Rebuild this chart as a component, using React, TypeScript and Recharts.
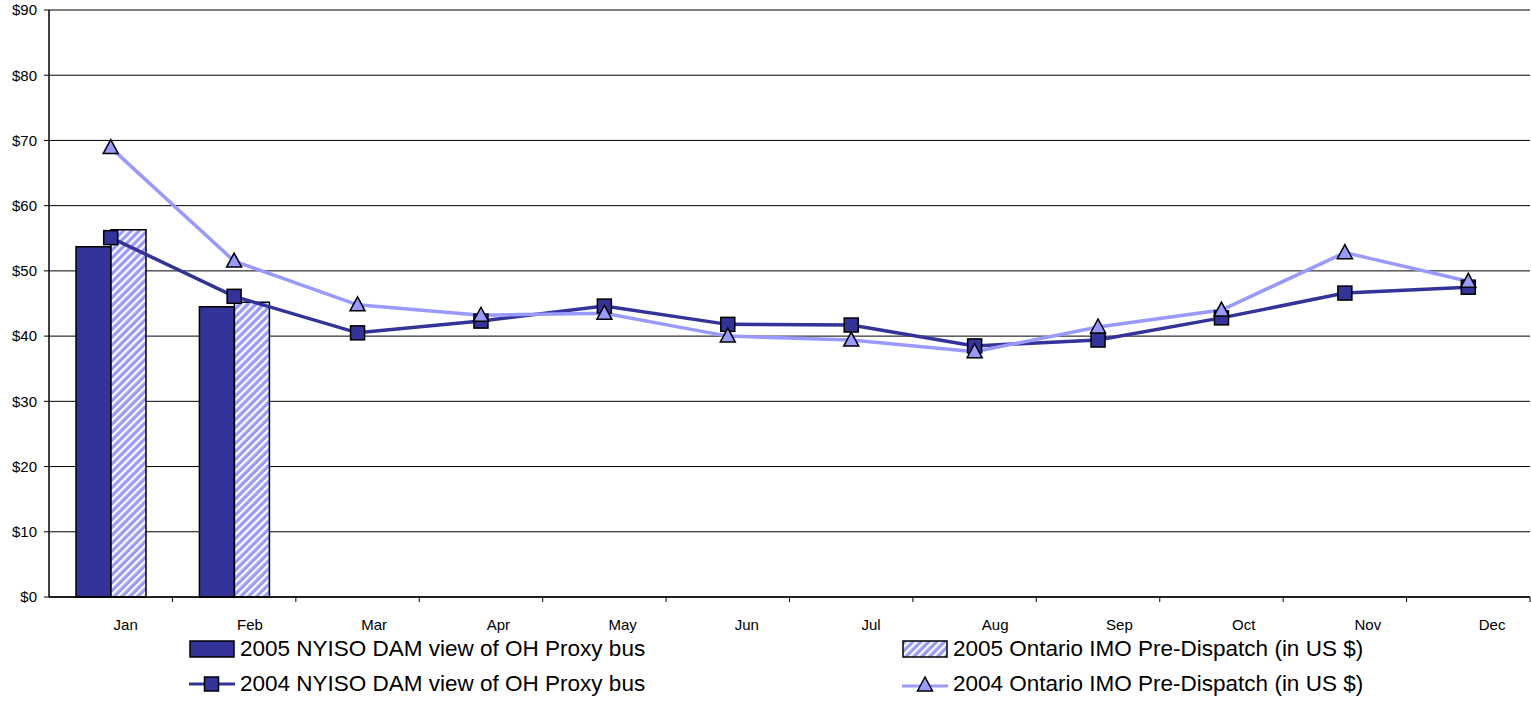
import React from 'react';
import { ComposedChart, Bar, Line, XAxis, YAxis, CartesianGrid } from 'recharts';

const months = ['Jan', 'Feb', 'Mar', 'Apr', 'May', 'Jun', 'Jul', 'Aug', 'Sep', 'Oct', 'Nov', 'Dec'];
const nyiso2005 = [53.7, 44.5];
const imo2005 = [56.3, 45.2];
const nyiso2004 = [55.1, 46.1, 40.5, 42.3, 44.6, 41.8, 41.7, 38.5, 39.4, 42.8, 46.6, 47.5];
const imo2004 = [68.9, 51.5, 44.8, 43.2, 43.5, 40.0, 39.4, 37.6, 41.4, 44.0, 52.8, 48.4];
const yTicks = [0, 10, 20, 30, 40, 50, 60, 70, 80, 90];

const DARK = '#333399';
const LIGHT = '#9999FF';
const FONT = '"Liberation Sans", Arial, sans-serif';

const W = 1531;
const H = 704;
const PLOT_LEFT = 49;
const PLOT_RIGHT = 1530;
const BAND = (PLOT_RIGHT - PLOT_LEFT) / months.length;

const data = months.map((m, i) => ({
  month: m,
  nyiso2005: nyiso2005[i] ?? null,
  imo2005: imo2005[i] ?? null,
  nyiso2004: nyiso2004[i],
  imo2004: imo2004[i],
}));

function SquareDot(props: any) {
  const { cx, cy } = props;
  if (cx == null || cy == null) return null;
  return <rect x={cx - 7} y={cy - 7} width={14} height={14} fill={DARK} stroke="#000" strokeWidth={1.5} />;
}

function TriangleDot(props: any) {
  const { cx, cy } = props;
  if (cx == null || cy == null) return null;
  return (
    <polygon
      points={`${cx},${cy - 8} ${cx - 7.5},${cy + 6} ${cx + 7.5},${cy + 6}`}
      fill={LIGHT}
      stroke="#000"
      strokeWidth={1.5}
    />
  );
}

function MonthTick(props: any) {
  const { x, y, payload, index } = props;
  const left = x - BAND / 2;
  return (
    <g>
      {index > 0 && <line x1={left} y1={y} x2={left} y2={y + 5} stroke="#000" />}
      {index === months.length - 1 && <line x1={x + BAND / 2} y1={y} x2={x + BAND / 2} y2={y + 5} stroke="#000" />}
      <text x={x + 15 + index * 0.8} y={y + 33} textAnchor="middle" fontSize={15} fontFamily={FONT} fill="#000">
        {payload.value}
      </text>
    </g>
  );
}

function HatchPattern({ id }: { id: string }) {
  return (
    <pattern id={id} patternUnits="userSpaceOnUse" width={5.6} height={5.6} patternTransform="rotate(45)">
      <rect width={5.6} height={5.6} fill={LIGHT} />
      <line x1={1.2} y1={0} x2={1.2} y2={5.6} stroke="#fff" strokeWidth={2.3} />
    </pattern>
  );
}

function LegendIcon({ kind }: { kind: string }) {
  return (
    <svg width={46} height={20} style={{ display: 'block', marginRight: 5 }}>
      <defs>
        <HatchPattern id="hatchLegend" />
      </defs>
      {kind === 'darkBar' && <rect x={1} y={2} width={44} height={16} fill={DARK} stroke="#000" strokeWidth={1.5} />}
      {kind === 'hatchBar' && <rect x={1} y={2} width={44} height={16} fill="url(#hatchLegend)" stroke="#000" strokeWidth={1.5} />}
      {kind === 'darkLine' && (
        <g>
          <line x1={0} y1={10} x2={46} y2={10} stroke={DARK} strokeWidth={3} />
          <rect x={15.5} y={3} width={14} height={14} fill={DARK} stroke="#000" strokeWidth={1.5} />
        </g>
      )}
      {kind === 'lightLine' && (
        <g>
          <line x1={0} y1={12} x2={46} y2={12} stroke={LIGHT} strokeWidth={3} />
          <polygon points="23,3 15.5,17 30.5,17" fill={LIGHT} stroke="#000" strokeWidth={1.5} />
        </g>
      )}
    </svg>
  );
}

const legendItems = [
  { kind: 'darkBar', label: '2005 NYISO DAM view of OH Proxy bus', left: 189, top: 638 },
  { kind: 'hatchBar', label: '2005 Ontario IMO Pre-Dispatch (in US $)', left: 902, top: 638 },
  { kind: 'darkLine', label: '2004 NYISO DAM view of OH Proxy bus', left: 189, top: 673 },
  { kind: 'lightLine', label: '2004 Ontario IMO Pre-Dispatch (in US $)', left: 902, top: 673 },
];

export default function App() {
  return (
    <div style={{ position: 'absolute', left: 0, top: 0, width: W, height: H, background: '#fff', fontFamily: FONT }}>
      <ComposedChart
        width={W}
        height={H}
        data={data}
        margin={{ top: 10, right: W - PLOT_RIGHT, bottom: 67, left: 0 }}
        barGap={0}
      >
        <defs>
          <HatchPattern id="hatch" />
        </defs>
        <CartesianGrid vertical={false} stroke="#000" strokeWidth={1} />
        <XAxis
          dataKey="month"
          height={40}
          interval={0}
          tickLine={false}
          tickSize={0}
          tickMargin={0}
          axisLine={{ stroke: '#000', strokeWidth: 1.5 }}
          tick={<MonthTick />}
        />
        <YAxis
          width={PLOT_LEFT}
          domain={[0, 90]}
          ticks={yTicks}
          interval={0}
          tickFormatter={(v: number) => `$${v}`}
          tickSize={5}
          tickMargin={7}
          tickLine={{ stroke: '#000' }}
          axisLine={{ stroke: '#000', strokeWidth: 1.5 }}
          tick={{ fontSize: 15, fill: '#000', fontFamily: FONT }}
        />
        <Bar dataKey="nyiso2005" barSize={35} fill={DARK} stroke="#000" strokeWidth={1.5} isAnimationActive={false} />
        <Bar dataKey="imo2005" barSize={35} fill="url(#hatch)" stroke="#000" strokeWidth={1.5} isAnimationActive={false} />
        <Line
          type="linear"
          dataKey="nyiso2004"
          stroke={DARK}
          strokeWidth={3.5}
          dot={<SquareDot />}
          activeDot={false}
          isAnimationActive={false}
        />
        <Line
          type="linear"
          dataKey="imo2004"
          stroke={LIGHT}
          strokeWidth={3.5}
          dot={<TriangleDot />}
          activeDot={false}
          isAnimationActive={false}
        />
      </ComposedChart>
      {legendItems.map((item) => (
        <div
          key={item.label}
          style={{
            position: 'absolute',
            left: item.left,
            top: item.top,
            height: 22,
            display: 'flex',
            alignItems: 'center',
            fontSize: 22.5,
            color: '#000',
            whiteSpace: 'nowrap',
          }}
        >
          <LegendIcon kind={item.kind} />
          <span>{item.label}</span>
        </div>
      ))}
    </div>
  );
}
